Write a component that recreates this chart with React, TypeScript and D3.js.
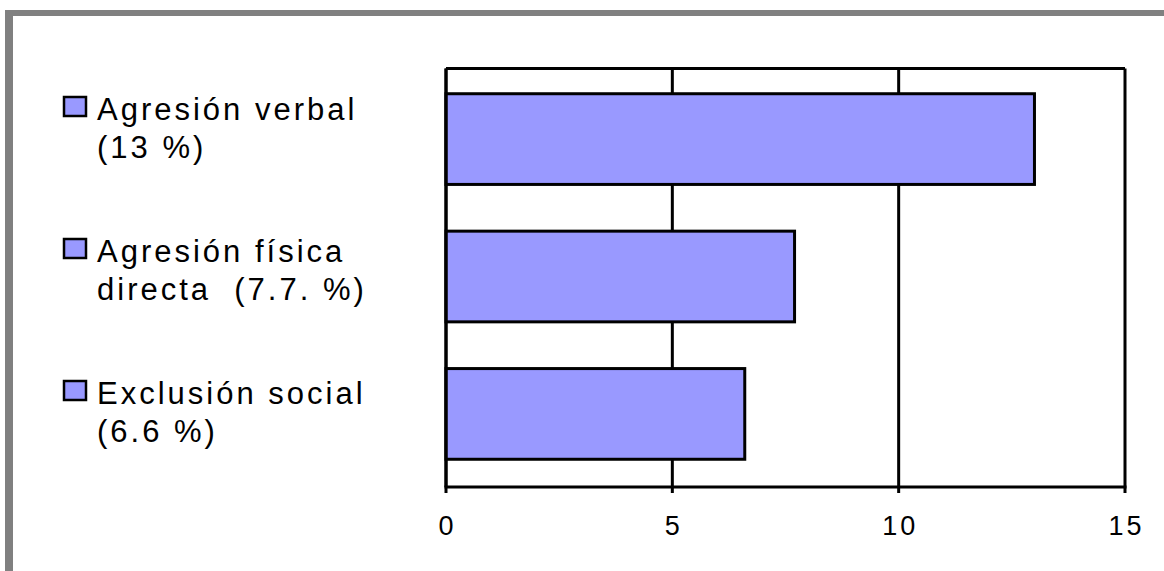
import React from "react";
import * as d3 from "d3";

const categories = ["Agresión verbal", "Agresión física directa", "Exclusión social"];
const legendLines = [
  ["Agresión verbal", "(13 %)"],
  ["Agresión física", "directa  (7.7. %)"],
  ["Exclusión social", "(6.6 %)"],
];
const values = [13, 7.7, 6.6];
const tickValues = [0, 5, 10, 15];

const W = 1164;
const H = 571;
const BAR = "#9999FF";

export default function App() {
  const x = d3.scaleLinear().domain([0, 15]).range([446, 1125]);
  const y = d3
    .scaleBand<string>()
    .domain(categories)
    .range([69, 484])
    .paddingInner(0.34)
    .paddingOuter(0.18);
  const top = 68.5;
  const bottom = 487;
  const font = "'Liberation Sans', Arial, sans-serif";

  return (
    <svg
      width={W}
      height={H}
      style={{ position: "absolute", left: 0, top: 0, background: "#fff" }}
    >
      <rect x={0} y={0} width={W} height={H} fill="#fff" />
      {/* outer gray border */}
      <rect x={5} y={10} width={W - 5} height={6} fill="#808080" />
      <rect x={5} y={10} width={8} height={H - 10} fill="#808080" />

      {/* gridlines */}
      {tickValues.map((t) => (
        <line
          key={"g" + t}
          x1={x(t)}
          x2={x(t)}
          y1={top}
          y2={bottom + 6}
          stroke="#000"
          strokeWidth={3}
        />
      ))}
      {/* top frame */}
      <line x1={x(0)} x2={x(15)} y1={top} y2={top} stroke="#000" strokeWidth={3} />

      {/* bars */}
      {categories.map((c, i) => (
        <rect
          key={c}
          x={x(0)}
          y={y(c)}
          width={x(values[i]) - x(0)}
          height={y.bandwidth()}
          fill={BAR}
          stroke="#000"
          strokeWidth={3}
        />
      ))}

      {/* axes */}
      <line x1={x(0)} x2={x(0)} y1={top} y2={bottom} stroke="#000" strokeWidth={3} />
      <line x1={x(0) - 1.5} x2={x(15) + 1.5} y1={bottom} y2={bottom} stroke="#000" strokeWidth={3} />

      {/* tick labels */}
      {tickValues.map((t) => (
        <text
          key={"t" + t}
          x={x(t)}
          y={535}
          textAnchor="middle"
          fontFamily={font}
          fontSize={27}
          letterSpacing={3}
          dx={1.5}
          fill="#000"
        >
          {t}
        </text>
      ))}

      {/* legend */}
      {legendLines.map((lines, i) => {
        const cy = 106.5 + i * 142;
        return (
          <g key={"l" + i}>
            <rect
              x={64}
              y={cy - 9.5}
              width={22}
              height={19}
              fill={BAR}
              stroke="#000"
              strokeWidth={2.5}
            />
            {lines.map((ln, j) => (
              <text
                key={j}
                x={97}
                y={cy + 13 + j * 38}
                fontFamily={font}
                fontSize={31}
                letterSpacing={3}
                fill="#000"
                style={{ whiteSpace: "pre" }}
              >
                {ln}
              </text>
            ))}
          </g>
        );
      })}
    </svg>
  );
}
